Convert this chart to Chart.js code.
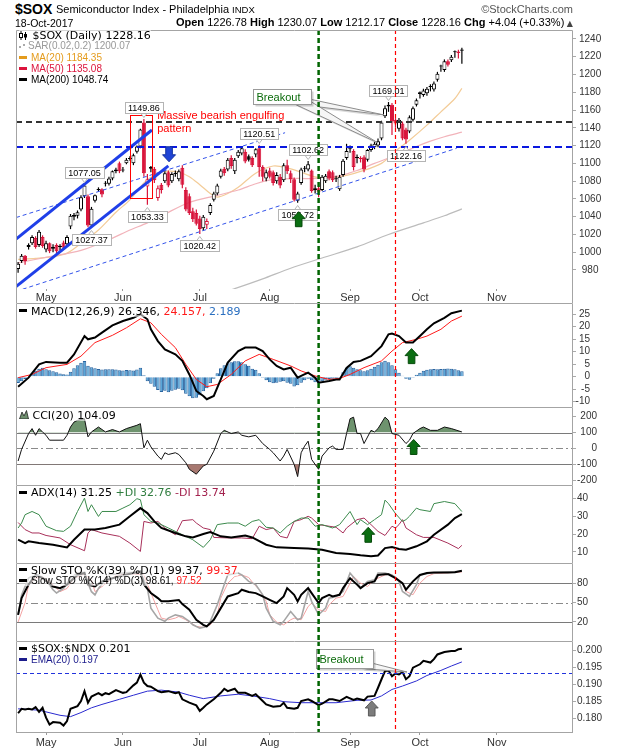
<!DOCTYPE html>
<html>
<head>
<meta charset="utf-8">
<script src="https://cdn.jsdelivr.net/npm/chart.js@4.4.1/dist/chart.umd.min.js"></script>
<style>
html,body{margin:0;padding:0;background:#fff;}
body{width:620px;height:750px;position:relative;overflow:hidden;font-family:"Liberation Sans",Arial,sans-serif;color:#000;}
canvas{position:absolute;left:0;}
.t{position:absolute;white-space:nowrap;line-height:1;z-index:3;}
.lg{position:absolute;left:19px;white-space:nowrap;line-height:11px;height:11px;font-family:"DejaVu Sans";font-size:11px;z-index:3;background:rgba(255,255,255,0.55);}
.ar{font-family:"Liberation Sans";font-size:10px;}
.d{display:inline-block;width:8px;height:3px;vertical-align:middle;margin-right:4px;margin-top:-2px;}
svg{vertical-align:middle;margin-top:-2px;}
</style>
</head>
<body>
<div class="t" style="left:15px;top:1.5px;font-weight:bold;font-size:14px">$SOX</div>
<div class="t" style="left:56px;top:4px;font-size:11px">Semiconductor Index - Philadelphia <span style="font-size:9.5px">INDX</span></div>
<div class="t" style="right:47px;top:3.5px;font-size:11px;color:#555">©StockCharts.com</div>
<div class="t" style="left:15px;top:17.8px;font-size:10.5px">18-Oct-2017</div>
<div class="t" style="right:47px;top:17.4px;font-size:11px"><b>Open</b> 1226.78 <b>High</b> 1230.07 <b>Low</b> 1212.17 <b>Close</b> 1228.16 <b>Chg</b> +4.04 (+0.33%)<span style="font-family:'DejaVu Sans';font-size:8px;color:#444"> ▲</span></div>

<div class="lg" style="top:30px"><svg width="10" height="9"><path d="M2 0v9M6.5 1v8" stroke="#000" stroke-width="1"/><rect x="0.5" y="2.5" width="3" height="4" fill="#fff" stroke="#000"/><rect x="5" y="3" width="3" height="3.5" fill="#000"/></svg> $SOX (Daily) 1228.16</div>
<div class="lg ar" style="top:40.3px;color:#999"><svg width="9" height="6"><rect x="0" y="3" width="2" height="2" fill="#aaa"/><rect x="4" y="1" width="2" height="2" fill="#aaa"/></svg>SAR(0.02,0.2) 1200.07</div>
<div class="lg ar" style="top:52px;color:#e49b1c"><span class="d" style="background:#e49b1c"></span>MA(20) 1184.35</div>
<div class="lg ar" style="top:63px;color:#dc143c"><span class="d" style="background:#dc143c"></span>MA(50) 1135.08</div>
<div class="lg ar" style="top:74.3px;color:#000"><span class="d" style="background:#000"></span>MA(200) 1048.74</div>

<div class="lg" style="top:305.7px"><span class="d" style="background:#000"></span>MACD(12,26,9) 26.346, <span style="color:#ff1a1a">24.157,</span> <span style="color:#2a6fc0">2.189</span></div>
<div class="lg" style="top:409.7px"><svg width="10" height="9"><path d="M0.5 9 L3 2 L5 6 L7.5 0.5 L9.5 9 Z" fill="#6e8f6e" stroke="#222" stroke-width="0.8"/></svg> CCI(20) 104.09</div>
<div class="lg" style="top:487px"><span class="d" style="background:#000"></span>ADX(14) 31.25 <span style="color:#2f7d3f">+DI 32.76</span> <span style="color:#a3224e">-DI 13.74</span></div>
<div class="lg" style="top:564.7px"><span class="d" style="background:#000"></span>Slow STO %K(39) %D(1) 99.37, <span style="color:#ff1a1a">99.37</span></div>
<div class="lg ar" style="top:575px"><span class="d" style="background:#000"></span>Slow STO %K(14) %D(3) 98.61, <span style="color:#ff1a1a">97.52</span></div>
<div class="lg" style="top:643.4px"><span class="d" style="background:#000"></span>$SOX:$NDX 0.201</div>
<div class="lg ar" style="top:653.7px;color:#1c1c8c"><span class="d" style="background:#1c1c8c"></span>EMA(20) 0.197</div>

<script>
// ================= DATA =================
const monthLabels = ['May','Jun','Jul','Aug','Sep','Oct','Nov'];
const monthIdx    = [8, 30, 52, 72, 95, 115, 137];     // session index of first trading day of month
const eventIdx    = [86, 108];                          // green (Aug 21) and red (Sep 21) marker sessions

// daily OHLC, session 0 = 19-Apr-2017 ... session 127 = 18-Oct-2017
const opens = [
 981,990,996,1006,1010,1016,1008,1017,1003,1010,
 1004,1008,1006,1011,1009,1029,1040,1041,1048,1063,
 1063,1030,1058,1070,1071,1077,1077,1083,1091,1100,
 1092,1100,1105,1100,1113,1119,1146,1074,1096,1094,
 1061,1076,1080,1090,1080,1088,1082,1095,1070,1063,
 1046,1044,1038,1027,1031,1044,1059,1066,1085,1094,
 1093,1106,1091,1108,1111,1113,1108,1106,1110,1117,
 1096,1083,1092,1090,1080,1085,1081,1098,1089,1082,
 1058,1078,1094,1093,1092,1070,1072,1070,1080,1091,
 1090,1082,1071,1087,1106,1116,1114,1106,1106,1107,
 1104,1115,1118,1120,1128,1153,1166,1166,1149,1139,
 1145,1138,1136,1149,1166,1180,1177,1179,1187,1183,
 1194,1210,1205,1215,1216,1226,1226,1226.78];
const highs = [
 989,998,997,1010,1019,1018,1025,1019,1013,1011,
 1009,1010,1009,1013,1019,1043,1044,1047,1064,1077.05,
 1065,1051,1065,1073,1072,1080,1085,1092,1095,1102,
 1096,1106,1108,1111,1120,1139,1149.86,1088,1097,1096,
 1075,1078,1091,1092,1090,1092,1093,1098,1073,1066,
 1050,1048,1041,1042,1038,1055,1068,1077,1094,1096,
 1106,1109,1106,1115,1118,1116,1110,1108,1117,1120.51,
 1098,1093,1095,1092,1090,1088,1100,1104,1092,1084,
 1068,1095,1097,1102.62,1093,1076,1075,1087,1088,1093,
 1092,1086,1087,1105,1122,1120,1116,1110,1108,1109,
 1116,1122,1124,1128,1148,1165,1169.01,1168,1151,1151,
 1147,1140,1154,1164,1173,1181,1184,1186,1189,1192,
 1203,1211,1217,1217,1222,1227,1228,1230.07];
const lows = [
 977,988,986,1003,1008,1004,1006,1005,1000,999,
 1000,999,1002,1003,1006,1026,1036,1038,1046,1061,
 1028,1027.37,1056,1068,1062,1074,1075,1081,1089,1089,
 1090,1099,1103,1098,1111,1117,1085,1053.33,1090,1078,
 1058,1066,1078,1073,1078,1085,1080,1072,1046,1042,
 1034,1030,1020.42,1024,1026,1042,1057,1064,1083,1086,
 1091,1094,1088,1106,1109,1100,1102,1096,1107,1085,
 1080,1080,1083,1075,1077,1072,1079,1088,1078,1057,
 1055.72,1076,1090,1091,1067,1066,1062,1069,1078,1081,
 1079,1079,1069,1085,1104,1112,1092,1100,1101,1090,
 1102,1113,1116,1118,1126,1151,1158,1132,1140,1136,
 1126,1122.16,1134,1147,1164,1173,1175,1176,1181,1181,
 1192,1203,1203,1209,1214,1219,1218,1212.17];
const closes = [
 987,996,990,1008,1017,1006,1023,1007,1010,1001,
 1006,1001,1007,1005,1017,1041,1042,1045,1062,1075,
 1030,1049,1064,1071,1065,1078,1083,1091,1093,1091,
 1093,1104,1106,1109,1119,1138,1089,1082,1094,1081,
 1072,1070,1089,1075,1088,1089,1091,1076,1048,1044,
 1037,1032,1026,1040,1035,1053,1066,1075,1092,1089,
 1104,1097,1104,1113,1117,1102,1104,1098,1116,1096,
 1085,1090,1085,1078,1087,1075,1098,1091,1082,1059,
 1066,1093,1094,1099,1069,1072,1068,1085,1086,1083,
 1081,1083,1085,1103,1114,1117,1096,1107,1105,1093,
 1115,1120,1122,1125,1146,1162,1164,1147,1145,1149,
 1128,1127,1152,1162,1171,1178,1182,1184,1186,1190,
 1201,1209,1215,1211,1220,1225,1224.12,1228.16];

// price overlays: [session, value]
const ma20Pts  = [[0,992],[5,993],[10,995],[14,999],[18,1010],[23,1025],[28,1045],[32,1059],[36,1078],[39,1087],[42,1091],[46,1090],[49,1085],[52,1076],[55,1066],[57,1062],[60,1066],[63,1073],[68,1089],[73,1097],[77,1095],[81,1090],[86,1084],[92,1085],[98,1091],[104,1100],[109,1117],[112,1126],[117,1143],[121,1158],[125,1173],[127,1184.35]];
const ma50Pts  = [[0,988],[9,995],[18,1002],[26,1014],[32,1025],[37,1033],[42,1043],[49,1056],[57,1064],[63,1070],[68,1077],[73,1082],[80,1083],[86,1083],[92,1086],[97,1092],[102,1100],[106,1106],[110,1112],[114,1119],[118,1125],[122,1130],[127,1135.08]];
const ma200Pts = [[55,950],[62,959],[70,970],[78,982],[87,993.5],[97,1006],[106,1020],[116,1033],[122,1041],[127,1048.74]];

// trend lines drawn on the price panel: [session, price] end points
const trendThickUpper = [[-0.6,1014.7],[38.3,1137.6]];
const trendThickLower = [[-0.6,961.2],[43.0,1097.1]];
const trendDashUpper  = [[-0.6,1039.0],[76.4,1134.5]];
const trendDashLower  = [[-0.6,955.9],[125.5,1117.0]];
const priceLevels     = [1146, 1118];   // black dashed, blue dashed

// MACD(12,26,9)
const macdPts = [[0,-4.0],[3,-0.4],[6,4.9],[8,5.9],[12,5.6],[14,5.6],[16,8.9],[19,16.2],[20,14.9],[22,15.6],[24,17.6],[27,20.5],[30,22.2],[33,23.5],[35,24.9],[37,22.9],[38,18.9],[40,14.2],[42,10.9],[45,8.9],[47,6.3],[49,0.9],[51,-5.7],[53,-7.7],[54,-9.0],[56,-7.7],[58,-1.1],[60,5.6],[63,10.2],[65,11.6],[68,11.6],[70,10.2],[72,6.9],[74,4.3],[76,2.9],[78,3.6],[80,-0.4],[81,0.3],[83,1.6],[85,-0.4],[86,-2.4],[89,-1.7],[91,-1.1],[92,-1.1],[94,3.5],[96,5.9],[98,6.3],[101,8.2],[104,12.2],[106,16.9],[107,17.2],[109,16.2],[111,13.6],[113,13.6],[115,16.2],[117,18.9],[119,21.3],[122,23.5],[124,25.3],[127,26.35]];
const signalPts = [[0,-0.4],[4,0.9],[8,3.6],[14,4.9],[18,8.2],[22,13.6],[27,16.5],[31,19.5],[35,23.1],[38,21.5],[41,16.9],[45,11.6],[48,4.9],[51,-1.1],[54,-4.0],[57,-3.1],[61,0.9],[65,6.3],[69,8.9],[73,6.9],[78,4.3],[81,2.3],[85,0.3],[89,-1.1],[92,-0.7],[95,0.9],[99,3.6],[104,6.3],[107,10.2],[110,13.6],[114,14.9],[117,16.2],[121,18.9],[124,22.2],[127,24.16]];
const macdHist = [
 -2.5,-1.8,-0.9,0.2,1.3,2.4,3.2,3.6,3.0,2.6,
 2.2,1.8,1.3,1.0,0.9,2.0,3.4,4.6,5.6,6.3,
 4.4,3.8,3.4,3.1,2.9,3.0,3.0,3.0,2.9,2.6,
 2.5,2.7,2.6,2.5,2.9,3.6,0.6,-1.8,-2.8,-4.0,
 -5.3,-6.1,-5.6,-6.2,-5.6,-5.2,-4.8,-5.4,-6.8,-7.8,
 -8.6,-8.4,-7.4,-5.8,-4.6,-2.6,-0.8,1.4,3.4,4.6,
 5.4,5.8,6.2,6.2,5.8,5.0,4.4,3.2,2.8,1.4,
 -0.4,-1.4,-2.2,-2.6,-2.4,-2.0,-1.8,-2.4,-2.8,-3.9,
 -3.4,-2.4,-1.4,-0.8,-1.4,-2.2,-2.6,-1.8,-1.2,-0.9,
 -0.8,-0.5,-0.4,1.8,3.6,4.2,3.6,3.0,2.6,2.2,
 2.6,3.2,4.0,4.8,5.8,6.4,5.8,4.6,3.0,1.6,
 0.4,-0.8,-1.2,-0.4,0.8,1.6,2.4,2.8,3.0,3.1,
 3.0,3.1,3.2,3.3,3.2,3.0,2.6,2.19];

// CCI(20)
const cciPts = [[0,-79],[1,-6],[3,94],[4,125],[5,83],[6,125],[7,104],[8,83],[9,52],[12,52],[13,52],[14,83],[15,135],[16,166],[17,177],[19,187],[20,73],[21,104],[23,135],[25,104],[27,119],[29,104],[31,125],[34,146],[35,156],[36,4],[37,52],[38,10],[40,-48],[41,-69],[42,-27],[43,-38],[45,-27],[46,-38],[48,-90],[49,-131],[51,-162],[53,-110],[54,-100],[56,-17],[58,94],[59,114],[61,94],[63,104],[64,83],[66,73],[68,83],[70,31],[72,-6],[73,-27],[75,-79],[76,-48],[77,-6],[79,-100],[80,-177],[81,-27],[82,15],[83,46],[84,-69],[86,-131],[87,-48],[89,4],[90,15],[91,-6],[93,-6],[94,94],[95,187],[96,197],[97,94],[98,94],[99,31],[101,114],[102,104],[103,125],[105,197],[106,177],[107,94],[109,83],[111,31],[112,52],[113,94],[115,125],[116,135],[118,114],[120,114],[122,135],[124,125],[127,104.09]];

// ADX(14), +DI, -DI
const adxPts = [[0,16.9],[2,15],[3,16],[6,15],[10,14.1],[14,12.6],[16,16.9],[19,22.6],[22,22.6],[25,23.5],[29,25.4],[32,30.1],[35,34.7],[37,31.9],[39,27.2],[41,23.5],[45,20.7],[48,18.8],[50,18.2],[53,20.1],[55,21.2],[58,18.8],[61,18.2],[65,19.3],[67,18.2],[71,14.1],[74,12.6],[79,12.2],[83,11.9],[87,11.3],[91,9.4],[95,8.9],[98,8.1],[101,7.6],[103,8],[105,12.2],[107,12.8],[109,11.7],[111,11.3],[114,13.2],[117,16],[119,19.7],[123,25.4],[125,29.1],[127,31.25]];
const pdiPts = [[0,23.5],[1,26.3],[2,31],[4,32.8],[6,31],[8,24.5],[11,22],[13,21.6],[15,24.5],[17,32.8],[19,40.3],[20,32.8],[21,36.6],[23,30],[24,32.8],[28,32.8],[30,34.7],[32,36.6],[34,40],[35,39.4],[36,31],[38,27.2],[40,26.3],[43,23.5],[47,19.7],[50,16.9],[53,12.6],[55,16.9],[57,25.4],[60,26.3],[63,26.3],[65,24.5],[67,27.2],[69,28.2],[71,23.9],[73,23.5],[75,20.7],[77,24.5],[79,27.2],[81,29.1],[83,29.1],[85,24.5],[87,25.4],[90,23.5],[92,25.4],[95,32.8],[97,25.4],[98,28.2],[100,25.4],[102,28.2],[104,31],[105,39.2],[106,37.2],[108,31.6],[110,27.2],[111,28.2],[112,30.1],[114,34.7],[115,33.8],[118,32.8],[119,37.2],[122,38.4],[125,37.2],[127,32.76]];
const mdiPts = [[0,26.6],[2,22.6],[4,20.7],[6,20.7],[8,19.3],[12,17.9],[15,14.1],[19,10.7],[20,20.7],[21,22.6],[24,20.7],[29,18.8],[32,15],[35,10.3],[36,27.2],[38,26.3],[40,27.2],[42,23.5],[45,19.7],[47,27.6],[50,28.2],[51,26.3],[53,23.5],[55,22.6],[56,18.2],[60,17.9],[64,17.9],[67,17.5],[69,24.5],[71,22.6],[73,23.5],[75,18.8],[77,17.9],[79,27.2],[81,28.2],[83,30.1],[84,29.1],[86,25.4],[89,24.5],[91,23.9],[93,20.7],[94,23.5],[97,28.2],[99,29.1],[101,25.4],[103,21.6],[105,19.3],[107,24.5],[108,23.5],[109,25.4],[110,28.2],[111,23.5],[114,19.7],[116,18.2],[119,18.2],[123,15],[126,11.9],[127,13.74]];

// Slow stochastics
const sto39Pts = [[0,31],[1,57],[3,78],[5,93],[7,88],[10,75],[12,72.5],[14,78],[17,93],[19,96],[20,78],[22,75],[24,83],[29,91],[33,96],[35,98.4],[36,78],[38,65],[40,57],[41,52],[43,52],[46,54],[47,47.7],[49,39],[51,23.4],[53,15.6],[54,13.1],[56,23.4],[58,41.5],[60,59.6],[63,64.8],[64,70],[66,66.4],[68,64.8],[70,59.6],[72,54.4],[74,49.3],[76,59.6],[77,72.5],[79,62.2],[80,52],[81,62.2],[83,72.5],[84,64.8],[86,49.3],[87,57],[89,62.2],[90,59.6],[92,62.2],[93,72.5],[95,88],[97,78],[98,72.5],[100,80.3],[102,83],[103,93],[105,94],[106,94],[108,88],[110,80.3],[111,70],[113,83],[115,93],[117,96],[119,96.8],[123,96.8],[125,97.3],[127,99.37]];
const sto14Pts = [[0,31],[1,62],[3,88],[4,91],[6,93],[8,85],[10,70],[11,65],[13,72],[15,88],[17,96],[19,97],[20,80],[21,67],[22,62],[23,72],[26,93],[30,96],[33,97],[35,98],[37,72],[38,41.5],[40,26],[42,21],[43,26],[45,31],[47,28.6],[49,21],[50,15.6],[52,10.5],[54,13.1],[55,21],[57,46.7],[59,78],[60,93],[63,96],[64,93],[66,83],[68,78],[70,62.2],[71,41.5],[73,21],[75,15.6],[76,21],[78,36.3],[80,23.4],[81,26],[83,67.4],[84,52],[86,31.2],[88,41.5],[89,57],[91,59.6],[93,67.4],[95,96],[97,83],[98,72.5],[100,83],[102,85.5],[103,96],[105,96],[107,93],[109,83],[110,67.4],[112,59.6],[114,78],[115,93],[118,96],[127,98.61]];
const sto14dPts = [[0,20],[2,50],[3,78],[5,88],[7,90],[10,78],[12,67],[14,72],[16,88],[19,94],[21,85],[22,67],[24,75],[28,92],[32,95],[36,93],[38,65],[40,39],[41,26],[43,23.4],[45,26],[46,28.6],[48,23.4],[50,16.7],[51,13.1],[53,11.6],[55,15.6],[57,31.2],[58,57],[60,80],[62,90.6],[64,93],[66,89],[67,82],[69,70],[71,52],[72,31.2],[74,19.8],[76,15.6],[78,23.4],[79,26],[81,23.4],[83,44],[84,49.3],[86,39],[88,36.3],[89,46.7],[91,57],[93,59.6],[95,80],[96,90.6],[98,80.3],[100,75],[101,80.3],[103,88],[105,93],[106,94],[108,90.6],[110,80.3],[111,67.4],[113,62.2],[115,80.3],[117,90.6],[119,95],[127,97.52]];

// $SOX:$NDX ratio and its EMA(20)
const ratioPts = [[0,.1816],[1,.1829],[2,.1827],[3,.1829],[4,.1827],[5,.1834],[6,.1820],[7,.1832],[8,.1803],[9,.1783],[10,.1790],[12,.1788],[13,.1780],[14,.1793],[15,.1829],[17,.1837],[18,.1852],[19,.1881],[20,.1847],[21,.1865],[23,.1875],[24,.1869],[25,.1875],[26,.1872],[28,.1884],[30,.1876],[31,.1878],[33,.1898],[34,.1906],[35,.1930],[36,.1906],[37,.1896],[38,.1894],[40,.1881],[41,.1878],[43,.1881],[45,.1875],[46,.1878],[47,.1857],[49,.1847],[51,.1839],[52,.1823],[53,.1832],[54,.1842],[56,.1857],[58,.1876],[59,.1888],[60,.1881],[62,.1888],[63,.1876],[65,.1876],[67,.1867],[68,.1872],[70,.1852],[71,.1842],[73,.1835],[75,.1837],[76,.1847],[77,.1832],[79,.1829],[80,.1832],[81,.1852],[83,.1857],[84,.1852],[86,.1840],[87,.1844],[89,.1857],[90,.1857],[92,.1852],[94,.1864],[96,.1855],[97,.1859],[99,.1854],[100,.1865],[102,.1867],[103,.1891],[104,.1916],[105,.1940],[106,.1942],[107,.1925],[108,.1933],[109,.1930],[110,.1937],[111,.1916],[112,.1925],[113,.1950],[115,.1960],[116,.1970],[118,.1965],[119,.1975],[120,.1989],[122,.1996],[124,.1999],[125,.1999],[126,.2004],[127,.2006]];
const ratioEmaPts = [[0,.1829],[6,.1825],[12,.1810],[15,.1806],[18,.1818],[21,.1832],[24,.1842],[29,.1857],[33,.1869],[37,.1881],[41,.1884],[46,.1878],[49,.1869],[53,.1859],[58,.1867],[63,.1872],[67,.1867],[72,.1859],[76,.1850],[81,.1847],[85,.1847],[91,.1847],[97,.1854],[101,.1855],[104,.1867],[107,.1886],[110,.1896],[114,.1911],[117,.1927],[121,.1942],[124,.1955],[127,.1967]];
const ratioLevel = [0.1933];

// axis tick values
const priceTicks = [980,1000,1020,1040,1060,1080,1100,1120,1140,1160,1180,1200,1220,1240];
const macdTicks  = [-10,-5,0,5,10,15,20,25];
const cciTicks   = [-200,-100,0,100,200];
const adxTicks   = [10,20,30,40];
const stoTicks   = [20,50,80];
const ratioTicks = [0.180,0.185,0.190,0.195,0.200];

// ================= ANNOTATIONS (anchored in data coordinates) =================
const swingLabels = [[36,'H'],[19,'H'],[21,'L'],[37,'L'],[52,'L'],[69,'H'],[83,'H'],[80,'L'],[106,'H'],[111,'L']];
const engulfBox = {i1:31.9, i2:38.3, v1:1061.4, v2:1154.5};
const engulfText = {i:39.8, v1:1153.3, v2:1138.3};
const mainArrows = [{i:43.2, v:1101.8, up:false, fill:'#1f44d6', line:'#12309e'}, {i:80.3, v:1045.6, up:true, fill:'#0b6e12', line:'#064a0a'}];
const mainCallout = {i1:67.2, i2:83.7, v1:1183.2, v2:1166.8, tips:[[104.7,1154.5],[103,1123]]};
const macdArrow = {i:112.6, v:11.2};
const cciArrow  = {i:113.2, v:56.7};
const adxArrow  = {i:100.2, v:23.9};
const ratioArrow = {i:101.2, v:0.18521};
const ratioCallout = {i1:85.2, i2:101.7, v1:0.20050, v2:0.19491, tips:[[111.3,0.19373]]};

// ================= RENDERING =================
Chart.defaults.font.family = '"Liberation Sans", Arial, sans-serif';
const X_MIN = -0.6, X_MAX = 158.8;
const RED = '#d8133a';
const evStyle = [{c:'#006400', w:2.5, dash:[5,3]}, {c:'#ff0000', w:1.2, dash:[4,3]}];
const P = arr => arr.map(p => ({x:p[0], y:p[1]}));

function mk(top, h){
  const c = document.createElement('canvas');
  c.width = 620; c.height = h;
  c.style.top = top + 'px'; c.style.width = '620px'; c.style.height = h + 'px';
  document.body.appendChild(c);
  return c;
}

function hline(ctx, a, py, l){
  ctx.beginPath();
  ctx.setLineDash(l.dash || []);
  ctx.strokeStyle = l.c; ctx.lineWidth = l.w;
  const yy = Math.round(py) + (l.w % 2 ? 0.5 : 0);
  ctx.moveTo(a.left, yy); ctx.lineTo(a.right, yy); ctx.stroke();
}

function arrow(ctx, x, tip, up, fill, stroke){
  const hw = 6.5, sw = 3.3, hh = 7, L = 15, d = up ? 1 : -1;
  ctx.save(); ctx.setLineDash([]);
  ctx.beginPath();
  ctx.moveTo(x, tip);
  ctx.lineTo(x + hw, tip + d*hh); ctx.lineTo(x + sw, tip + d*hh); ctx.lineTo(x + sw, tip + d*L);
  ctx.lineTo(x - sw, tip + d*L); ctx.lineTo(x - sw, tip + d*hh); ctx.lineTo(x - hw, tip + d*hh);
  ctx.closePath();
  ctx.fillStyle = fill; ctx.fill(); ctx.strokeStyle = stroke; ctx.lineWidth = 1; ctx.stroke();
  ctx.restore();
}

function valLabel(ctx, xp, yp, text, above){
  ctx.save(); ctx.setLineDash([]);
  ctx.font = '9px "Liberation Sans"';
  const w = Math.round(ctx.measureText(text).width + 6), h = 11;
  const bx = Math.round(xp - w/2) + 0.5;
  const by = above ? Math.round(yp - 6 - h) + 0.5 : Math.round(yp + 6) + 0.5;
  ctx.fillStyle = '#fff'; ctx.strokeStyle = '#b4b4b4'; ctx.lineWidth = 1;
  ctx.beginPath();
  if (above){ ctx.moveTo(xp - 3, by + h); ctx.lineTo(xp, by + h + 4); ctx.lineTo(xp + 3, by + h); }
  else { ctx.moveTo(xp - 3, by); ctx.lineTo(xp, by - 4); ctx.lineTo(xp + 3, by); }
  ctx.fill(); ctx.stroke();
  ctx.fillRect(bx, by, w, h); ctx.strokeRect(bx, by, w, h);
  ctx.fillStyle = '#000'; ctx.textAlign = 'center'; ctx.textBaseline = 'middle';
  ctx.fillText(text, xp, by + h/2 + 0.5);
  ctx.restore();
}

function callout(ctx, x, y, c){
  const x1 = Math.round(x.getPixelForValue(c.i1)) + 0.5, x2 = Math.round(x.getPixelForValue(c.i2)) + 0.5;
  const y1 = Math.round(y.getPixelForValue(c.v1)) + 0.5, y2 = Math.round(y.getPixelForValue(c.v2)) + 0.5;
  ctx.save(); ctx.setLineDash([]);
  c.tips.forEach((t, k) => {
    const tx = x.getPixelForValue(t[0]), ty = y.getPixelForValue(t[1]);
    const b1 = [x2 - 12 - k*4, y2], b2 = [x2 - k*4, y2 - 5];
    ctx.beginPath(); ctx.moveTo(b1[0]+2, b1[1]+2); ctx.lineTo(tx+2, ty+2); ctx.lineTo(b2[0]+2, b2[1]+2); ctx.closePath();
    ctx.fillStyle = 'rgba(0,0,0,0.15)'; ctx.fill();
    ctx.beginPath(); ctx.moveTo(b1[0], b1[1]); ctx.lineTo(tx, ty); ctx.lineTo(b2[0], b2[1]); ctx.closePath();
    ctx.fillStyle = '#f6f6f6'; ctx.fill(); ctx.strokeStyle = '#8c8c8c'; ctx.lineWidth = 1; ctx.stroke();
  });
  ctx.fillStyle = 'rgba(0,0,0,0.18)'; ctx.fillRect(x1 + 2, y1 + 2, x2 - x1, y2 - y1);
  ctx.fillStyle = '#fff'; ctx.fillRect(x1, y1, x2 - x1, y2 - y1);
  ctx.strokeStyle = '#9a9a9a'; ctx.lineWidth = 1; ctx.strokeRect(x1, y1, x2 - x1, y2 - y1);
  ctx.font = '11px "Liberation Sans"'; ctx.fillStyle = '#0b6b0b'; ctx.textAlign = 'left'; ctx.textBaseline = 'middle';
  ctx.fillText('Breakout', x1 + 3, (y1 + y2)/2 + 0.5);
  ctx.restore();
}

function decor(cfg){
  return {
    id: 'decor',
    beforeDatasetsDraw(ch){
      const ctx = ch.ctx, a = ch.chartArea, y = ch.scales.y;
      ctx.save();
      (cfg.under || []).forEach(l => hline(ctx, a, y.getPixelForValue(l.v), l));
      ctx.restore();
    },
    afterDatasetsDraw(ch){
      const ctx = ch.ctx, a = ch.chartArea, x = ch.scales.x, y = ch.scales.y;
      ctx.save();
      (cfg.over || []).forEach(l => hline(ctx, a, y.getPixelForValue(l.v), l));
      if (cfg.extra) cfg.extra(ctx, x, y, a);
      eventIdx.forEach((m, k) => {
        const s = evStyle[k];
        const xp = x.getPixelForValue(m);
        ctx.beginPath(); ctx.setLineDash(s.dash); ctx.strokeStyle = s.c; ctx.lineWidth = s.w;
        ctx.moveTo(xp, cfg.vTop === 'area' ? a.top : 0);
        ctx.lineTo(xp, cfg.vBot === 'area' ? a.bottom : ch.height);
        ctx.stroke();
      });
      ctx.setLineDash([]); ctx.strokeStyle = '#a4a4a4'; ctx.lineWidth = 1;
      const L = a.left + 0.5, R = a.right - 0.5, T = a.top + 0.5, B = a.bottom - 0.5;
      const ext = cfg.sideExt ? ch.height : a.bottom;
      ctx.beginPath();
      ctx.moveTo(L, ext); ctx.lineTo(L, T); ctx.lineTo(R, T); ctx.lineTo(R, ext);
      if (cfg.bottom){ ctx.moveTo(L, B); ctx.lineTo(R, B); }
      ctx.stroke();
      ctx.restore();
    }
  };
}

// yc.align: 'center' | 'far' | 'near';  yc.edge: right edge of the label column (for 'far')
function opts(yc, xShow, xH, xPad){
  const edge = yc.edge || 620;
  return {
    responsive: false, animation: false, events: [],
    layout: {padding: {left: 16, right: 620 - edge, top: 0, bottom: 0}},
    plugins: {legend: {display: false}, tooltip: {enabled: false}},
    scales: {
      x: { type: 'linear', min: X_MIN, max: X_MAX, offset: false, display: xShow,
        grid: {display: true, offset: false, drawOnChartArea: false, drawTicks: true, tickLength: 2, color: '#999'},
        border: {display: false},
        ticks: {autoSkip: false, maxRotation: 0, minRotation: 0, padding: xPad || 0, color: '#333',
          font: {size: 11, family: '"Liberation Sans"'},
          callback: (v) => { const k = monthIdx.indexOf(v); return k < 0 ? '' : monthLabels[k]; }},
        afterBuildTicks: (s) => { s.ticks = monthIdx.map(v => ({value: v})); },
        afterFit: (s) => { s.height = xH || 0; s.paddingLeft = 0; s.paddingRight = 0; }
      },
      y: { type: 'linear', position: 'right', min: yc.min, max: yc.max,
        grid: {display: true, drawOnChartArea: false, drawTicks: true, tickLength: 3, color: '#aaa'}, border: {display: false},
        ticks: {autoSkip: false, padding: yc.pad, crossAlign: yc.align, color: '#333',
          font: {size: 10, family: '"Liberation Sans"'}, callback: yc.fmt},
        afterBuildTicks: (s) => { s.ticks = yc.ticks.map(v => ({value: v})); },
        afterFit: (s) => { s.width = edge - 573; s.paddingTop = 0; s.paddingBottom = 0; }
      }
    }
  };
}
const fInt = v => String(Math.round(v));
const line = (pts, color, w, extra) => Object.assign({type: 'line', data: P(pts), borderColor: color, borderWidth: w, pointRadius: 0, tension: 0, fill: false}, extra || {});

// ---------- price panel ----------
const candleCol = closes.map((c, i) => (i > 0 && c < closes[i-1]) ? RED : '#000');
const bodyFill  = closes.map((c, i) => c < opens[i] ? candleCol[i] : '#fff');

new Chart(mk(30, 273), {
  type: 'bar',
  data: { datasets: [
    line(trendThickUpper, '#1f3fe8', 3, {order: 0}),
    line(trendThickLower, '#1f3fe8', 3, {order: 0}),
    line(trendDashUpper, '#3353ea', 1, {order: 0, borderDash: [4, 3]}),
    line(trendDashLower, '#3353ea', 1, {order: 0, borderDash: [4, 3]}),
    {type: 'bar', data: closes.map((c, i) => ({x: i, y: [opens[i], c]})), backgroundColor: bodyFill, borderColor: candleCol,
      borderWidth: 1, borderSkipped: false, barThickness: 4, grouped: false, minBarLength: 1, inflateAmount: 0, order: 1},
    {type: 'bar', data: closes.map((c, i) => ({x: i, y: [lows[i], highs[i]]})), backgroundColor: candleCol,
      borderWidth: 0, barThickness: 1.2, grouped: false, inflateAmount: 0, order: 2},
    line(ma200Pts, '#bcbcbc', 1.2, {order: 3, tension: 0.3}),
    line(ma50Pts, '#f2b3ba', 1.2, {order: 3, tension: 0.3}),
    line(ma20Pts, '#f3cc98', 1.2, {order: 3, tension: 0.3})
  ]},
  options: opts({min: 958.6, max: 1250.1, ticks: priceTicks, pad: 3, align: 'center', fmt: fInt}, true, 14, 0),
  plugins: [decor({
    sideExt: true,
    over: [{v: priceLevels[0], c: '#333', w: 2, dash: [6, 4]}, {v: priceLevels[1], c: '#0a18e0', w: 2, dash: [7, 4]}],
    vTop: 'area', vBot: 'canvas',
    extra: (ctx, x, y) => {
      ctx.save(); ctx.setLineDash([]);
      const rx1 = Math.round(x.getPixelForValue(engulfBox.i1)) + 0.5, rx2 = Math.round(x.getPixelForValue(engulfBox.i2)) + 0.5;
      const ry1 = Math.round(y.getPixelForValue(engulfBox.v2)) + 0.5, ry2 = Math.round(y.getPixelForValue(engulfBox.v1)) + 0.5;
      ctx.strokeStyle = '#ff0000'; ctx.lineWidth = 1; ctx.strokeRect(rx1, ry1, rx2 - rx1, ry2 - ry1);
      ctx.font = '11px "Liberation Sans"'; ctx.fillStyle = '#ff0000'; ctx.textAlign = 'left'; ctx.textBaseline = 'middle';
      ctx.fillText('Massive bearish engulfing', x.getPixelForValue(engulfText.i), y.getPixelForValue(engulfText.v1));
      ctx.fillText('pattern', x.getPixelForValue(engulfText.i), y.getPixelForValue(engulfText.v2));
      ctx.restore();
      swingLabels.forEach(s => {
        const i = s[0], hi = s[1] === 'H', v = hi ? highs[i] : lows[i];
        valLabel(ctx, x.getPixelForValue(i), y.getPixelForValue(v), v.toFixed(2), hi);
      });
      mainArrows.forEach(a => arrow(ctx, x.getPixelForValue(a.i), y.getPixelForValue(a.v), a.up, a.fill, a.line));
      callout(ctx, x, y, mainCallout);
    }
  })]
});

// ---------- MACD ----------
new Chart(mk(303, 104), {
  type: 'bar',
  data: { datasets: [
    line(macdPts, '#000', 2, {order: 0}),
    line(signalPts, '#ff1a1a', 1, {order: 1}),
    {type: 'bar', data: macdHist.map((v, i) => ({x: i, y: v})), backgroundColor: '#5aa6d8', borderColor: '#2a64a0',
      borderWidth: 1, barPercentage: 1, categoryPercentage: 1, grouped: false, inflateAmount: 0, order: 2}
  ]},
  options: opts({min: -12.1, max: 29.4, ticks: macdTicks, pad: 0, align: 'far', edge: 590, fmt: fInt}, false),
  plugins: [decor({ extra: (ctx, x, y) => arrow(ctx, x.getPixelForValue(macdArrow.i), y.getPixelForValue(macdArrow.v), true, '#0b6e12', '#064a0a') })]
});

// ---------- CCI ----------
new Chart(mk(407, 78), {
  type: 'line',
  data: { datasets: [
    line(cciPts, '#111', 1, {order: 0, fill: {target: {value: 100}, above: 'rgba(98,138,98,0.92)', below: 'rgba(0,0,0,0)'}}),
    line(cciPts, 'rgba(0,0,0,0)', 0, {order: 1, fill: {target: {value: -100}, above: 'rgba(0,0,0,0)', below: 'rgba(160,108,100,0.92)'}})
  ]},
  options: opts({min: -230, max: 261, ticks: cciTicks, pad: 0, align: 'far', edge: 597, fmt: fInt}, false),
  plugins: [decor({
    under: [{v: 100, c: '#7a7a7a', w: 1}, {v: -100, c: '#7a7a7a', w: 1}, {v: 0, c: '#8a8a8a', w: 1, dash: [7, 3, 2, 3]}],
    extra: (ctx, x, y) => arrow(ctx, x.getPixelForValue(cciArrow.i), y.getPixelForValue(cciArrow.v), true, '#0b6e12', '#064a0a')
  })]
});

// ---------- ADX ----------
new Chart(mk(485, 78), {
  type: 'line',
  data: { datasets: [
    line(adxPts, '#000', 2, {order: 0}),
    line(pdiPts, '#3b8a4c', 1, {order: 1}),
    line(mdiPts, '#a8305a', 1, {order: 2})
  ]},
  options: opts({min: 3.8, max: 47.7, ticks: adxTicks, pad: 1, align: 'near', fmt: fInt}, false),
  plugins: [decor({ extra: (ctx, x, y) => arrow(ctx, x.getPixelForValue(adxArrow.i), y.getPixelForValue(adxArrow.v), true, '#0b6e12', '#064a0a') })]
});

// ---------- Slow STO ----------
new Chart(mk(563, 78), {
  type: 'line',
  data: { datasets: [
    line(sto39Pts, '#000', 2, {order: 0}),
    line(sto14Pts, '#a6a6a6', 1.6, {order: 1}),
    line(sto14dPts, '#f4a3a3', 1, {order: 2})
  ]},
  options: opts({min: -9.5, max: 111.5, ticks: stoTicks, pad: 1, align: 'near', fmt: fInt}, false),
  plugins: [decor({ under: [{v: 80, c: '#7a7a7a', w: 1}, {v: 20, c: '#7a7a7a', w: 1}, {v: 50, c: '#8a8a8a', w: 1, dash: [7, 3, 2, 3]}] })]
});

// ---------- $SOX:$NDX ----------
new Chart(mk(641, 109), {
  type: 'line',
  data: { datasets: [
    line(ratioPts, '#000', 2, {order: 0}),
    line(ratioEmaPts, '#2a2ad0', 1, {order: 1})
  ]},
  options: opts({min: 0.17579, max: 0.20285, ticks: ratioTicks, pad: 1, align: 'near', fmt: v => v.toFixed(3)}, true, 17, 1),
  plugins: [decor({
    bottom: true, vTop: 'canvas', vBot: 'area',
    over: [{v: ratioLevel[0], c: '#2233dd', w: 1, dash: [4, 3]}],
    extra: (ctx, x, y) => {
      callout(ctx, x, y, ratioCallout);
      arrow(ctx, x.getPixelForValue(ratioArrow.i), y.getPixelForValue(ratioArrow.v), true, '#7c7c7c', '#5a5a5a');
    }
  })]
});
</script>
</body>
</html>
